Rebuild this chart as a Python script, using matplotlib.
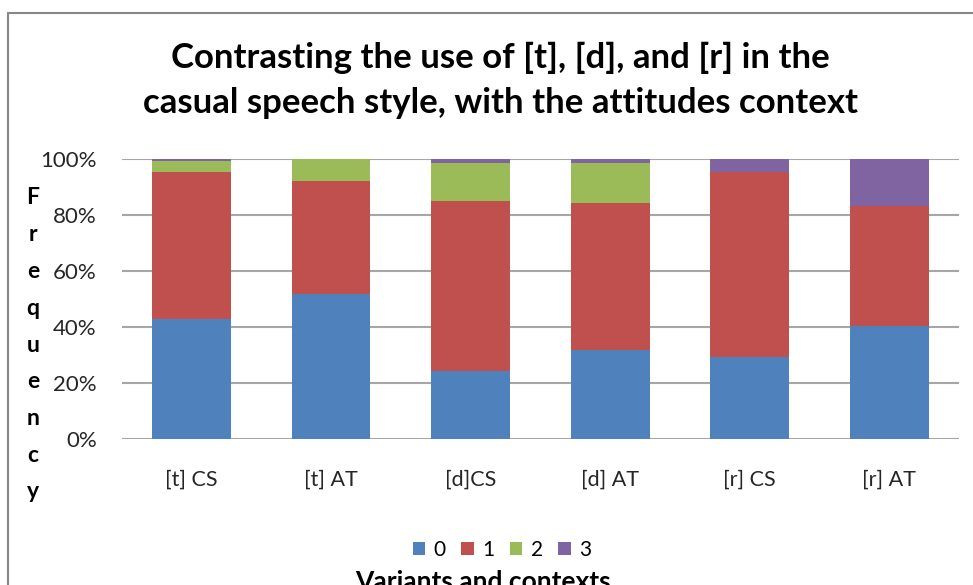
import numpy as np
import matplotlib
matplotlib.use("Agg")
import matplotlib.pyplot as plt
from matplotlib.patches import Rectangle

plt.rcParams['font.family'] = ['Lato', 'DejaVu Sans']

# --- data (percent of each variant per context) ---
contexts = ["[t] CS", "[t] AT", "[d]CS", "[d] AT", "[r] CS", "[r] AT"]
variant_0 = [43, 52, 24.3, 32, 29.3, 40.3]
variant_1 = [52.2, 40, 60.8, 52.3, 66, 43]
variant_2 = [4.1, 8, 13.4, 14.2, 0, 0]
variant_3 = [0.7, 0, 1.5, 1.5, 4.7, 16.7]
series_names = ["0", "1", "2", "3"]
colors = ["#4F81BD", "#C0504D", "#9BBB59", "#8064A2"]
y_ticks = [0, 20, 40, 60, 80, 100]

fig = plt.figure(figsize=(9.73, 5.85), dpi=100)
ax = fig.add_axes([0.1251, 0.2491, 0.8605, 0.4791])

x = np.arange(len(contexts))
bottom = np.zeros(len(contexts))
handles = []
for vals, name, c in zip([variant_0, variant_1, variant_2, variant_3], series_names, colors):
    vals = np.array(vals, dtype=float)
    b = ax.bar(x, vals, bottom=bottom, width=0.565, color=c, label=name, zorder=3)
    handles.append(b)
    bottom += vals

ax.set_xlim(-0.5, len(contexts) - 0.5)
ax.set_ylim(0, 100)
ax.set_yticks(y_ticks)
ax.set_yticklabels([f"{v}%" for v in y_ticks])
ax.set_xticks(x)
ax.set_xticklabels(contexts)
ax.grid(axis="y", color="#A6A6A6", lw=1.5, zorder=0)
ax.tick_params(axis="both", length=0, labelcolor="#262626")
ax.tick_params(axis="y", pad=18, labelsize=16)
ax.tick_params(axis="x", pad=22, labelsize=15.5)
for s in ax.spines.values():
    s.set_visible(False)

# chart frame
fig.patches.append(Rectangle((8 / 973, -0.1), 1.2, 1 - 13 / 585 + 0.1, transform=fig.transFigure,
                             fill=False, edgecolor="#888888", lw=1.5))

fig.text(0.514, 1 - 58 / 585, "Contrasting the use of [t], [d], and [r] in the",
         ha="center", va="center", fontsize=25, fontweight="bold")
fig.text(0.514, 1 - 103 / 585, "casual speech style, with the attitudes context",
         ha="center", va="center", fontsize=25, fontweight="bold")

# vertical y label, one letter per line
for i, ch in enumerate("Frequency"):
    fig.text(33 / 973, 1 - (198 + i * 36.75) / 585, ch, ha="center", va="center",
             fontsize=16.5, fontweight="bold")

fig.legend(handles=handles, loc="center", bbox_to_anchor=(502 / 973, 1 - 550 / 585), ncol=4,
           frameon=False, fontsize=15, handlelength=0.6, handleheight=0.6,
           handletextpad=0.4, columnspacing=0.75)

# axis title sits at the lower edge, partly cut as in the original chart
fig.text(483 / 973, 1 - 590 / 585, "Variants and contexts", ha="center", va="baseline",
         fontsize=19, fontweight="bold")

fig.savefig("out.png", dpi=100)
